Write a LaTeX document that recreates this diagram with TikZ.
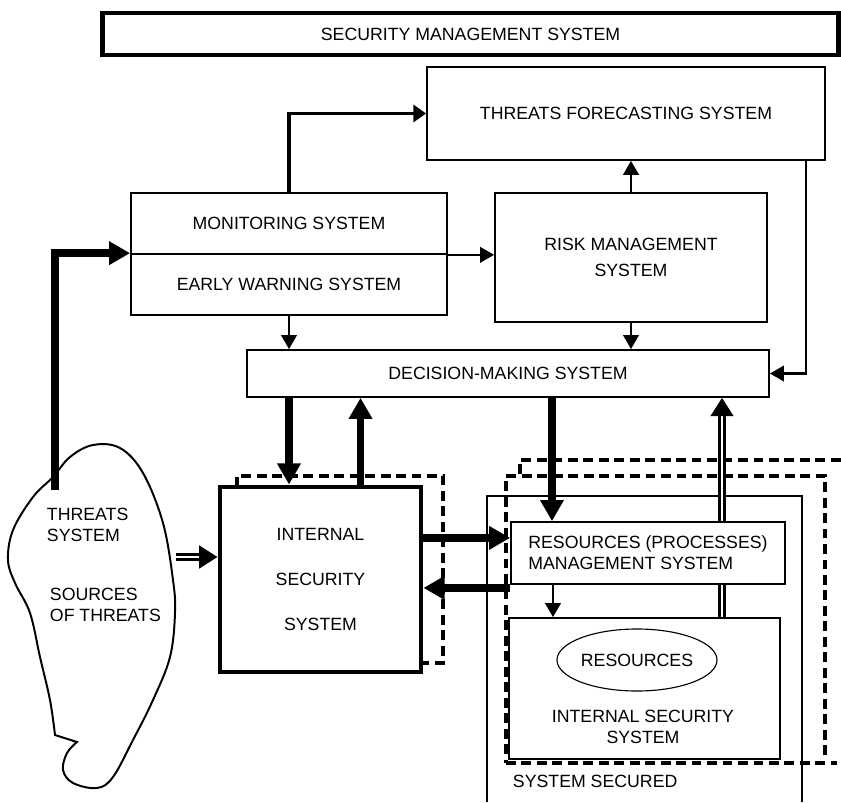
\documentclass[tikz,border=0pt]{standalone}
\usepackage{fontspec}
\setmainfont{Liberation Sans}
\usetikzlibrary{arrows.meta,shapes.geometric}
\begin{document}
\begin{tikzpicture}[x=0.025cm,y=-0.025cm,
  font=\fontsize{12.6pt}{15pt}\selectfont,
  sysbox/.style={draw,line width=1.2pt,fill=white,align=center,inner sep=0pt},
  thinarr/.style={line width=1.6pt,-{Triangle[length=10pt,width=11pt]}},
  fatarr/.style={line width=5.5pt,-{Triangle[length=15pt,width=16pt]}},
  dblline/.style={double,double distance=1.6pt,line width=2pt},
  dblarr/.style={dblline,-{Triangle[length=13pt,width=16pt]}},
  fence/.style={line width=2.5pt,dash pattern=on 7pt off 4pt}]
\useasboundingbox (0,0) rectangle (841,802);
% secured area and dashed borders
\draw[line width=1pt] (487,802) -- (487,496) -- (802,496) -- (802,802);
\draw[fence] (237,487) -- (237,476) -- (443,476) -- (443,663) -- (421,663);
\draw[fence,line width=3.5pt] (825,755) -- (825,476) -- (506,476) -- (506,763);
\draw[fence] (506,763) -- (837,763);
\draw[fence,line width=3pt] (520,474) -- (520,460) -- (841,460);
\node[anchor=west] (secured) at (508,781) {SYSTEM SECURED};
% boxes
\node[sysbox,line width=3.5pt,minimum width=18.375cm,minimum height=1.05cm] (title) at (470.5,34) {SECURITY MANAGEMENT SYSTEM};
\node[sysbox,minimum width=9.95cm,minimum height=2.325cm] (forecast) at (626,113.5) {THREATS FORECASTING SYSTEM};
\node[sysbox,minimum width=7.9cm,minimum height=1.525cm] (monit) at (289,223.5) {MONITORING SYSTEM};
\node[sysbox,minimum width=7.9cm,minimum height=1.525cm] (early) at (289,284.5) {EARLY WARNING SYSTEM};
\node[sysbox,minimum width=6.8cm,minimum height=3.225cm] (risk) at (631,257.5) {RISK MANAGEMENT\\[3pt]SYSTEM};
\node[sysbox,minimum width=13.05cm,minimum height=1.175cm] (decide) at (508,373.5) {DECISION-MAKING SYSTEM};
\node[sysbox,line width=3.5pt,minimum width=5.025cm,minimum height=4.625cm] (iss) at (320.5,579.5) {INTERNAL\\[17pt]SECURITY\\[17pt]SYSTEM};
\node[sysbox,align=left,minimum width=6.85cm,minimum height=1.55cm] (resmgmt) at (648,553) {RESOURCES (PROCESSES)\\MANAGEMENT SYSTEM};
\node[sysbox,minimum width=6.775cm,minimum height=3.525cm] (rsys) at (644.5,688.5) {};
\node[draw,ellipse,line width=0.8pt,minimum width=4cm,minimum height=1.55cm,inner sep=0pt] (res) at (637,660) {RESOURCES};
\node[align=center] (isslow) at (643,727) {INTERNAL SECURITY\\SYSTEM};
% sources of threats
\draw[line width=1.4pt] plot[smooth,tension=0.6] coordinates {(77,742) (67,753) (63,770) (73,783) (97,788) (113,777) (133,740) (153,700) (170,657) (175,613) (173,580) (163,523) (143,473) (120,448) (93,445) (70,457) (53,477) (33,497) (13,530) (8,560) (15,583) (30,613) (40,657) (50,700) (55,735)} -- cycle;
\node[anchor=west,align=left] (thrtxt) at (42,525) {THREATS\\SYSTEM};
\node[anchor=west,align=left] (srctxt) at (45,605) {SOURCES\\OF THREATS};
\coordinate (thr) at (55,490);
\coordinate (thre) at (176,557);
% connections
\draw[line width=2.4pt,-{Triangle[length=9pt,width=12pt]}] (monit.north) |- (forecast.west);
\draw[thinarr,line width=2pt] (risk.north) -- (risk.north |- forecast.south);
\draw[thinarr] ([xshift=-0.5cm]forecast.south east) |- (decide.east);
\draw[thinarr] (monit.south east) -- (monit.south east -| risk.west);
\draw[thinarr] (early.south) -- (early.south |- decide.north);
\draw[thinarr] (risk.south) -- (risk.south |- decide.north);
\draw[fatarr] (early.south |- decide.south) -- (early.south |- iss.north);
\draw[fatarr] ([xshift=1cm]iss.north) -- ([xshift=1cm]iss.north |- decide.south);
\draw[fatarr] ([xshift=-2.4cm]resmgmt.north |- decide.south) -- ([xshift=-2.4cm]resmgmt.north);
\draw[dblarr] ([xshift=1.85cm]resmgmt.north) -- ([xshift=1.85cm]resmgmt.north |- decide.south);
\draw[dblline] ([xshift=1.94cm]rsys.north) -- ([xshift=1.94cm]rsys.north |- resmgmt.south);
\draw[fatarr] ([yshift=1.04cm]iss.east) -- ([yshift=1.04cm]iss.east -| resmgmt.west);
\draw[fatarr] ([yshift=-0.21cm]iss.east -| resmgmt.west) -- ([yshift=-0.21cm]iss.east);
\draw[thinarr,line width=2pt] ([xshift=-2.375cm]resmgmt.south) -- ([xshift=-2.375cm]resmgmt.south |- rsys.north);
\draw[fatarr] (thr) |- (early.north west);
\draw[dblarr] (thre) -- (thre -| iss.west);
\end{tikzpicture}
\end{document}
